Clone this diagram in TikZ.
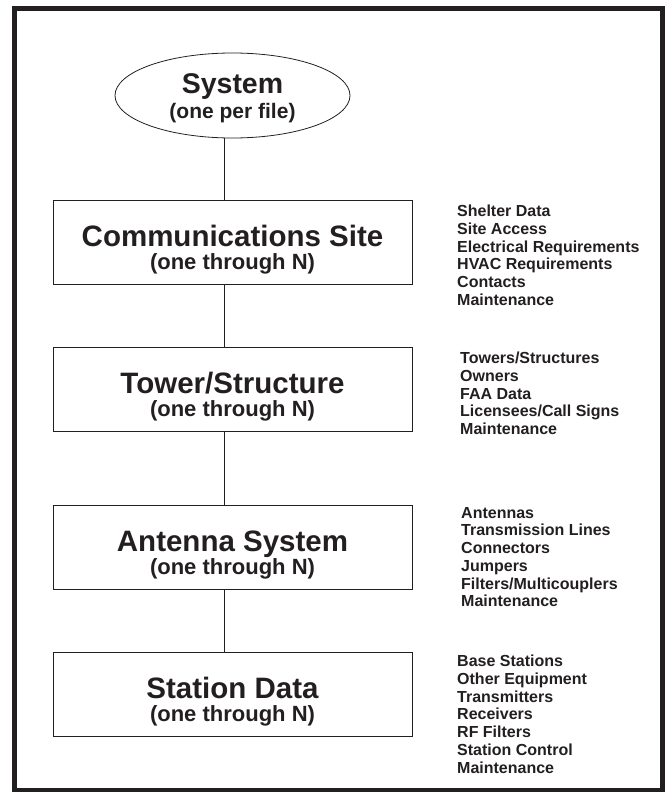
\documentclass[tikz,border=0pt]{standalone}
\usepackage{fontspec}
\setmainfont{Liberation Sans}
\usetikzlibrary{shapes.geometric}
\definecolor{ink}{HTML}{231F20}
\begin{document}
\begin{tikzpicture}[x=1pt,y=-1pt,
  frame/.style={draw=ink, line width=4.5pt},
  box/.style={draw=ink, line width=0.9pt, minimum width=359pt, minimum height=84pt, inner sep=0pt},
  oval/.style={draw=ink, line width=0.8pt, ellipse, minimum width=235pt, minimum height=85pt, inner sep=0pt},
  ttl/.style={font=\bfseries\fontsize{29.5}{31}\selectfont, text=ink, inner sep=0pt, anchor=base},
  sub/.style={font=\bfseries\fontsize{22}{24}\selectfont, text=ink, inner sep=0pt, anchor=base},
  lst/.style={font=\bfseries\fontsize{16}{17.7}\selectfont, text=ink, inner sep=0pt, anchor=north west, align=left},
  conn/.style={draw=ink, line width=0.9pt}]
\useasboundingbox (0,0) rectangle (669,792);
\draw[frame] (14.5,8.5) rectangle (662.5,790);

\node[oval] (sys) at (232.5,95.5) {};
\node[ttl, font=\bfseries\fontsize{28.5}{30}\selectfont] (systt) at (232.5,93) {System};
\node[sub, font=\bfseries\fontsize{21}{23}\selectfont] (syssub) at (232.5,118) {(one per file)};

\node[box] (site) at (232.5,242) {};
\node[ttl] (sitett) at ([yshift=-4pt]site.center) {Communications Site};
\node[sub] (sitesub) at ([yshift=-27.5pt]site.center) {(one through N)};

\node[box] (tower) at (232.5,389) {};
\node[ttl] (towertt) at ([yshift=-4pt]tower.center) {Tower/Structure};
\node[sub] (towersub) at ([yshift=-27.5pt]tower.center) {(one through N)};

\node[box] (ant) at (232.5,547) {};
\node[ttl] (anttt) at ([yshift=-4pt]ant.center) {Antenna System};
\node[sub] (antsub) at ([yshift=-27.5pt]ant.center) {(one through N)};

\node[box] (stn) at (232.5,694) {};
\node[ttl] (stntt) at ([yshift=-4pt]stn.center) {Station Data};
\node[sub] (stnsub) at ([yshift=-27.5pt]stn.center) {(one through N)};

\draw[conn] ([xshift=-8.5pt]sys.south) -- ([xshift=-8.5pt]site.north);
\draw[conn] ([xshift=-8.5pt]site.south) -- ([xshift=-8.5pt]tower.north);
\draw[conn] ([xshift=-8.5pt]tower.south) -- ([xshift=-8.5pt]ant.north);
\draw[conn] ([xshift=-8.5pt]ant.south) -- ([xshift=-8.5pt]stn.north);

\node[lst] (l1) at (457,205) {Shelter Data\\Site Access\\Electrical Requirements\\HVAC Requirements\\Contacts\\Maintenance};
\node[lst] (l2) at (460,352) {Towers/Structures\\Owners\\FAA Data\\Licensees/Call Signs\\Maintenance};
\node[lst] (l3) at (461,507) {Antennas\\Transmission Lines\\Connectors\\Jumpers\\Filters/Multicouplers\\Maintenance};
\node[lst] (l4) at (457,655) {Base Stations\\Other Equipment\\Transmitters\\Receivers\\RF Filters\\Station Control\\Maintenance};
\end{tikzpicture}
\end{document}
